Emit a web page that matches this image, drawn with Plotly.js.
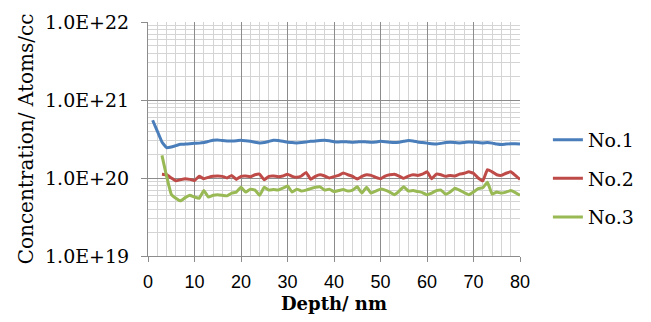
<!DOCTYPE html>
<html><head><meta charset="utf-8">
<script src="https://cdn.plot.ly/plotly-3.0.1.min.js"></script>
<style>html,body{margin:0;padding:0;background:#fff;}#chart{width:651px;height:322px;}</style>
</head><body><div id="chart"></div>
<script>
const depth1 = Array.from({length: 80}, (_, i) => i + 1);
const depth23 = Array.from({length: 78}, (_, i) => i + 3);
const no1 = [5.5,4.0,2.9,2.45,2.5,2.6,2.7,2.72,2.75,2.78,2.8,2.85,2.95,3.05,3.08,3.02,2.98,2.98,3.0,3.05,
  3.0,2.95,2.88,2.82,2.85,2.95,3.05,3.02,2.95,2.88,2.85,2.82,2.85,2.9,2.95,2.98,3.02,3.05,3.0,2.92,
  2.9,2.92,2.9,2.88,2.9,2.92,2.9,2.88,2.9,2.95,2.92,2.88,2.85,2.88,2.95,3.02,2.98,2.9,2.85,2.8,
  2.75,2.72,2.78,2.85,2.88,2.85,2.82,2.85,2.9,2.88,2.85,2.82,2.85,2.8,2.72,2.68,2.72,2.75,2.74,2.72].map(v => v * 1e20);
const no2 = [1.12,1.1,1.0,0.92,0.95,0.98,0.96,0.93,1.05,0.98,1.02,1.05,1.06,1.05,1.0,1.08,0.96,1.05,
  1.06,1.04,1.1,1.12,0.95,1.05,1.06,1.04,1.06,1.12,1.05,1.02,1.06,1.18,0.96,1.05,1.1,1.06,1.0,1.04,
  1.08,1.16,1.1,1.05,0.97,1.05,1.1,1.08,1.02,0.98,1.06,1.1,1.12,1.06,0.99,1.06,1.1,1.08,1.12,1.2,
  0.98,1.12,1.1,1.05,1.08,1.06,1.12,1.15,1.2,1.15,1.0,0.92,1.28,1.2,1.1,1.08,1.15,1.2,1.08,0.96].map(v => v * 1e20);
const no3 = [19.5,10.5,6.2,5.5,5.1,5.6,6.0,5.7,5.5,6.9,5.7,6.0,6.1,6.0,5.9,6.4,6.6,7.6,
  6.6,7.2,7.0,6.0,7.6,7.0,7.1,7.0,7.4,7.9,6.6,7.2,6.8,7.0,7.3,7.6,7.7,7.0,7.2,6.7,
  6.9,7.1,6.8,7.0,7.7,6.4,7.6,6.4,6.8,7.2,7.0,6.6,6.1,6.8,7.7,6.8,6.9,6.7,6.5,6.1,
  6.4,6.9,7.0,6.2,6.6,7.4,7.0,6.5,6.1,6.6,7.3,7.5,8.8,6.2,6.6,6.4,6.6,6.9,6.5,6.0].map(v => v * 1e19);
const seriesNames = ['No.1', 'No.2', 'No.3'];
const seriesColors = ['#4a7ebb', '#be4b48', '#98b954'];
const yTickVals = [1e19, 1e20, 1e21, 1e22];
const yTickText = ['1.0E+19', '1.0E+20', '1.0E+21', '1.0E+22'];
const xTickVals = [0, 10, 20, 30, 40, 50, 60, 70, 80];

const xs = [depth1, depth23, depth23];
const ys = [no1, no2, no3];
const traces = ys.map((y, i) => ({
  x: xs[i], y: y, type: 'scatter', mode: 'lines', name: seriesNames[i],
  legendgroup: 'g' + i,
  line: {color: seriesColors[i], width: 3, shape: 'spline', smoothing: 0.3}
}));

const serif = 'DejaVu Serif, serif';
const layout = {
  width: 651, height: 322,
  margin: {l: 148, r: 129, t: 22, b: 66},
  paper_bgcolor: '#fff', plot_bgcolor: '#fff',
  showlegend: true,
  legend: {x: 1.075, y: 0.33, xanchor: 'left', yanchor: 'middle',
    font: {family: serif, size: 19, color: '#000'}, tracegroupgap: 11, bgcolor: 'rgba(0,0,0,0)'},
  xaxis: {
    range: [0, 80], tickvals: xTickVals, ticktext: xTickVals.map(String),
    showgrid: true, gridcolor: '#8c8c8c', gridwidth: 1,
    showline: true, linecolor: '#8c8c8c', linewidth: 1,
    ticks: 'outside', ticklen: 5, tickcolor: '#8c8c8c',
    ticklabelstandoff: 4,
    tickfont: {family: 'Liberation Sans, Arial, sans-serif', size: 18, color: '#000'},
    minor: {dtick: 2, showgrid: true, gridcolor: '#d4d4d4', gridwidth: 1, ticks: ''},
    zeroline: false,
    title: {text: '<b>Depth/ nm</b>', font: {family: serif, size: 18, color: '#000'}, standoff: 6}
  },
  yaxis: {
    type: 'log', range: [19, 22], tickvals: yTickVals, ticktext: yTickText,
    showgrid: true, gridcolor: '#8c8c8c', gridwidth: 1,
    showline: true, linecolor: '#8c8c8c', linewidth: 1,
    ticks: 'outside', ticklen: 6, tickcolor: '#8c8c8c',
    ticklabelstandoff: 8,
    tickfont: {family: serif, size: 19, color: '#000'},
    minor: {dtick: 'D1', showgrid: true, gridcolor: '#d4d4d4', gridwidth: 1, ticks: ''},
    zeroline: false,
    title: {text: 'Concentration/ Atoms/cc', font: {family: serif, size: 20, color: '#000'}, standoff: 6}
  }
};
Plotly.newPlot('chart', traces, layout, {displayModeBar: false, staticPlot: true});
</script></body></html>
